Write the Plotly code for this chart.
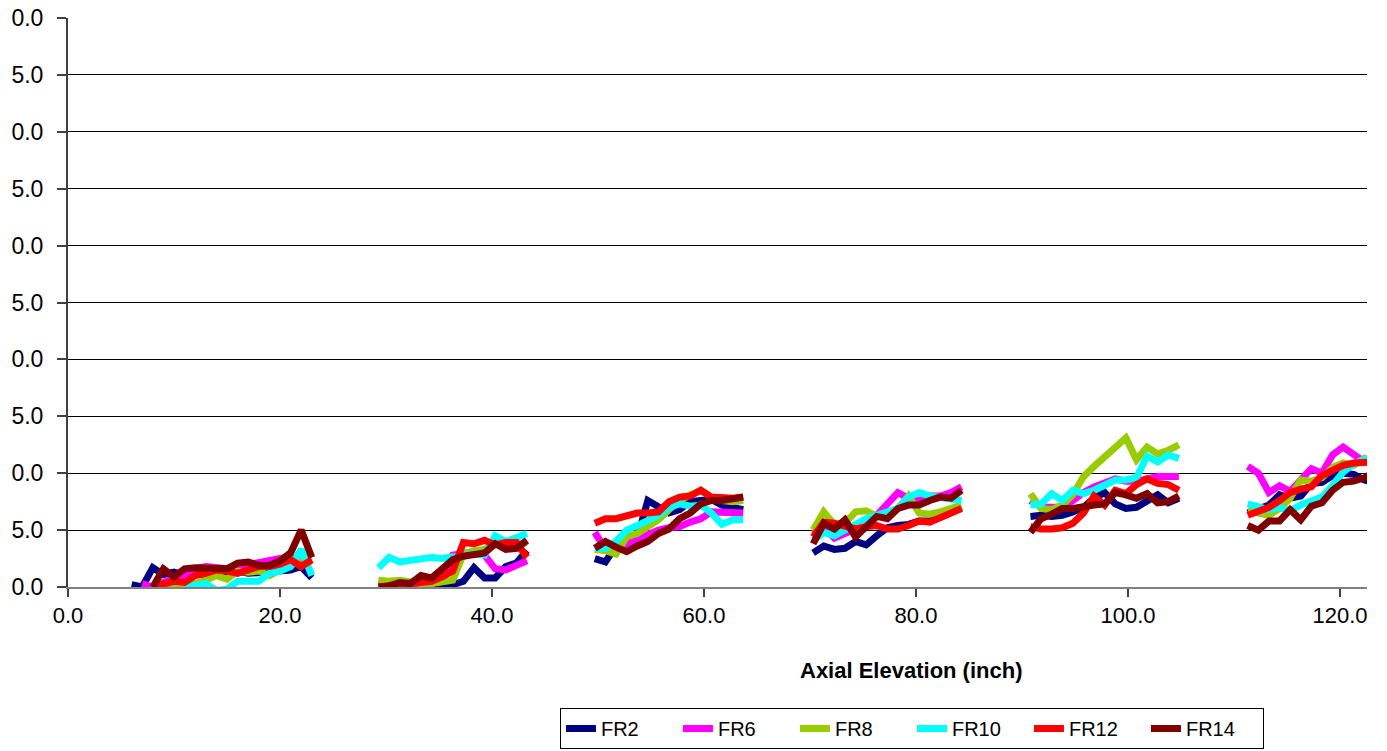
import plotly.graph_objects as go

# x grid per measurement group (inch)
x_groups = [
    [6, 7, 8, 9, 10, 11, 12, 13, 14, 15, 16, 17, 18, 19, 20, 21, 22, 23],
    [29.3, 30.3, 31.3, 32.3, 33.3, 34.3, 35.3, 36.3, 37.3, 38.3, 39.3, 40.3, 41.3, 42.3, 43.3],
    [49.7, 50.7, 51.7, 52.7, 53.7, 54.7, 55.7, 56.7, 57.7, 58.7, 59.7, 60.7, 61.7, 62.7, 63.7],
    [70.3, 71.3, 72.3, 73.3, 74.3, 75.3, 76.3, 77.3, 78.3, 79.3, 80.3, 81.3, 82.3, 83.3, 84.3],
    [90.8, 91.8, 92.8, 93.8, 94.8, 95.8, 96.8, 97.8, 98.8, 99.8, 100.8, 101.8, 102.8, 103.8, 104.8],
    [111.3, 112.3, 113.3, 114.3, 115.3, 116.3, 117.3, 118.3, 119.3, 120.3, 121.3, 122.3, 123.3],
]

N = None
FR2 = [
    [0.2, 0.0, 1.7, 1.1, 1.3, 1.0, 1.2, 1.0, 1.0, 1.2, 1.4, 1.2, 1.3, 1.4, 1.4, 1.5, 1.8, 0.8],
    [0.1, 0.1, 0.1, 0.1, 0.1, 0.1, 0.1, 0.2, 0.5, 1.7, 0.8, 0.8, 1.8, 2.1, 3.2],
    [2.5, 2.2, 3.6, 4.0, 4.3, 7.6, 7.0, 6.5, 6.8, 7.5, 7.6, 7.7, 7.2, 7.0, 6.8],
    [3.0, 3.6, 3.3, 3.4, 4.0, 3.7, 4.5, 5.2, 5.4, 5.5, 5.8, 5.8, 6.3, 6.6, 7.0],
    [6.2, 6.3, 6.2, 6.3, 6.6, 7.0, 7.8, 8.3, 7.3, 6.9, 7.0, 7.6, 8.1, 7.4, 7.8],
    [6.5, 6.9, 7.2, 8.1, 7.8, 8.0, 9.1, 9.2, 9.8, 10.0, 9.9, 9.4, 9.2],
]
FR6 = [
    [N, 0.3, 0.0, 0.4, 0.8, 1.0, 1.6, 1.8, 1.7, 1.6, 1.8, 2.0, 2.2, 2.4, 2.5, 2.6, 2.2, 2.3],
    [0.5, 0.4, 0.3, 0.3, 0.2, 0.3, 0.6, 2.8, 3.0, 3.1, 2.8, 1.6, 1.5, 1.9, 2.3],
    [4.8, 3.3, 3.3, 3.8, 4.2, 4.6, 5.0, 5.2, 5.3, 5.7, 6.0, 6.6, 6.6, 6.5, 6.5],
    [4.7, 5.2, 4.3, 4.7, 5.1, 5.7, 6.3, 7.3, 8.3, 7.8, 7.6, 8.0, 8.0, 8.3, 8.8],
    [7.6, 7.0, 7.0, 7.0, 7.6, 8.3, 8.8, 9.2, 9.5, 9.3, 9.3, 9.5, 9.7, 9.7, 9.7],
    [10.6, 10.0, 8.3, 8.9, 8.4, 9.5, 10.4, 10.0, 11.6, 12.3, 11.6, 11.0, 10.8],
]
FR8 = [
    [N, N, N, 0.0, 0.1, 0.2, 0.3, 0.6, 1.0, 0.7, 1.4, 1.3, 1.4, 1.0, 1.5, 1.8, 2.7, 2.6],
    [0.6, 0.5, 0.6, 0.4, 0.3, 0.3, 0.5, 0.6, 2.9, 3.2, 3.3, 3.8, 3.6, 3.7, 3.9],
    [3.3, 3.2, 2.9, 4.4, 4.7, 5.3, 5.9, 6.8, 7.6, 8.1, 8.5, 7.9, 7.6, 7.5, 7.6],
    [5.0, 6.6, 5.5, 5.6, 6.6, 6.7, 6.2, 6.4, 6.9, 8.0, 6.5, 6.4, 6.6, 6.9, 7.2],
    [8.2, 6.9, 6.8, 7.2, 8.1, 9.7, 10.6, 11.5, 12.2, 13.1, 11.2, 12.3, 11.7, 12.0, 12.5],
    [6.7, 6.5, 6.3, 6.9, 7.8, 9.4, 9.3, 9.6, 10.5, 10.9, 10.7, 11.3, 11.0],
]
FR10 = [
    [N, N, N, N, N, 0.0, 0.1, 0.3, -0.3, -0.2, 0.5, 0.5, 0.5, 1.2, 1.4, 1.8, 3.3, 1.0],
    [1.7, 2.6, 2.2, 2.3, 2.5, 2.6, 2.5, 2.6, 2.8, 2.9, 2.8, 4.5, 4.0, 4.4, 4.7],
    [3.4, 3.4, 4.0, 5.0, 5.4, 5.9, 6.3, 7.0, 7.3, 7.1, 7.2, 6.5, 5.5, 5.9, 5.9],
    [4.1, 4.8, 4.5, 5.0, 5.6, 6.0, 6.3, 6.6, 6.9, 7.9, 8.3, 8.0, 7.9, 7.8, 7.6],
    [7.2, 7.3, 8.2, 7.6, 8.5, 8.2, 8.5, 8.9, 9.4, 9.4, 9.6, 11.5, 11.0, 11.6, 11.3],
    [7.3, 7.0, 6.8, 7.0, 6.7, 7.2, 7.6, 7.9, 8.9, 10.1, 10.8, 11.2, 11.3],
]
FR12 = [
    [N, N, 0.0, 0.2, 0.5, 0.4, 1.0, 1.2, 1.5, 1.4, 1.2, 1.5, 1.8, 1.8, 2.0, 2.4, 1.8, 2.4],
    [0.0, 0.1, 0.2, 0.2, 0.3, 0.5, 0.9, 1.4, 3.9, 3.8, 4.1, 3.7, 3.9, 3.9, 2.6],
    [5.6, 6.0, 6.0, 6.3, 6.5, 6.5, 6.6, 7.5, 7.9, 8.0, 8.5, 7.9, 7.8, 7.8, 7.9],
    [4.4, 5.7, 5.6, 5.3, 5.1, 5.3, 5.4, 5.1, 5.1, 5.4, 5.8, 5.7, 6.1, 6.5, 6.9],
    [5.3, 5.1, 5.1, 5.2, 5.6, 6.5, 8.0, 7.2, 8.5, 8.2, 9.0, 9.5, 9.1, 9.0, 8.5],
    [6.3, 6.6, 7.0, 7.6, 8.3, 8.6, 8.8, 9.8, 10.2, 10.7, 10.9, 11.0, 11.0],
]
FR14 = [
    [N, N, 0.0, 1.6, 0.9, 1.6, 1.7, 1.7, 1.7, 1.6, 2.1, 2.2, 1.9, 1.9, 2.3, 3.0, 5.0, 2.6],
    [0.0, 0.1, 0.4, 0.3, 1.0, 0.8, 1.6, 2.4, 2.7, 2.9, 3.0, 3.8, 3.3, 3.4, 4.1],
    [3.4, 4.0, 3.5, 3.1, 3.6, 4.0, 4.7, 5.1, 6.0, 6.5, 7.3, 7.6, 7.6, 7.8, 7.9],
    [3.8, 5.6, 5.1, 5.9, 4.4, 5.2, 6.2, 6.0, 6.9, 7.2, 7.2, 7.6, 7.9, 7.8, 8.5],
    [4.8, 6.0, 6.4, 6.9, 6.9, 7.1, 7.2, 7.3, 8.3, 8.1, 7.8, 8.2, 7.4, 7.5, 8.0],
    [5.4, 5.0, 5.8, 5.8, 6.8, 5.9, 7.1, 7.4, 8.5, 9.2, 9.3, 9.6, 10.1],
]

series_names = ["FR2", "FR6", "FR8", "FR10", "FR12", "FR14"]
series_values = [FR2, FR6, FR8, FR10, FR12, FR14]
series_colors = ["#000080", "#FF00FF", "#99CC00", "#00FFFF", "#FF0000", "#800000"]

y_tickvals = [0, 5, 10, 15, 20, 25, 30, 35, 40, 45, 50]
y_ticktext = ["0.0", "5.0", "0.0", "5.0", "0.0", "5.0", "0.0", "5.0", "0.0", "5.0", "0.0"]
x_tickvals = [0, 20, 40, 60, 80, 100, 120]
x_ticktext = ["0.0", "20.0", "40.0", "60.0", "80.0", "100.0", "120.0"]


def flatten(groups_x, groups_y):
    xs, ys = [], []
    for gx, gy in zip(groups_x, groups_y):
        xs.extend(gx)
        ys.extend(gy)
        xs.append(None)
        ys.append(None)
    return xs, ys


fig = go.Figure()
for name, vals, col in zip(series_names, series_values, series_colors):
    xs, ys = flatten(x_groups, vals)
    fig.add_trace(go.Scatter(x=xs, y=ys, mode="lines", name=name,
                             line=dict(color=col, width=7), connectgaps=False))

FONT = "Liberation Sans, Arial, sans-serif"
fig.update_layout(
    template="none",
    width=1387, height=751,
    margin=dict(l=68, r=20, t=18, b=164, autoexpand=False),
    plot_bgcolor="white", paper_bgcolor="white",
    font=dict(family=FONT, color="black", size=22),
    showlegend=True,
    legend=dict(orientation="h", x=0.6497, xanchor="center", y=-0.2127, yanchor="top",
                bordercolor="black", borderwidth=1, bgcolor="white",
                font=dict(family=FONT, size=20), itemwidth=30, tracegroupgap=0,
                entrywidth=72, entrywidthmode="pixels"),
    xaxis=dict(range=[0, 122.55], tickvals=x_tickvals, ticktext=x_ticktext, automargin=False,
               showgrid=False, zeroline=False, showline=True, linecolor="#808080", linewidth=2,
               ticks="outside", ticklen=8, tickcolor="#404040", tickwidth=1.5,
               tickfont=dict(size=22), ticklabelstandoff=0),
    yaxis=dict(range=[0, 50], tickvals=y_tickvals, ticktext=y_ticktext, automargin=False,
               showgrid=True, gridcolor="black", gridwidth=1, zeroline=False,
               showline=True, linecolor="#404040", linewidth=2,
               ticks="outside", ticklen=9, tickcolor="#404040", tickwidth=1.5,
               tickfont=dict(size=23), ticklabelstandoff=9),
    annotations=[dict(text="<b>Axial Elevation (inch)</b>", xref="paper", yref="paper",
                      x=0.6497, y=-0.1476, xanchor="center", yanchor="middle",
                      showarrow=False, font=dict(family=FONT, size=22))],
)

# remove the default 8px page margin so the figure sits at the window's top-left corner
fig.write_html("out.html", config={"displayModeBar": False},
               post_script="document.body.style.margin='0';document.body.style.overflow='hidden';")
